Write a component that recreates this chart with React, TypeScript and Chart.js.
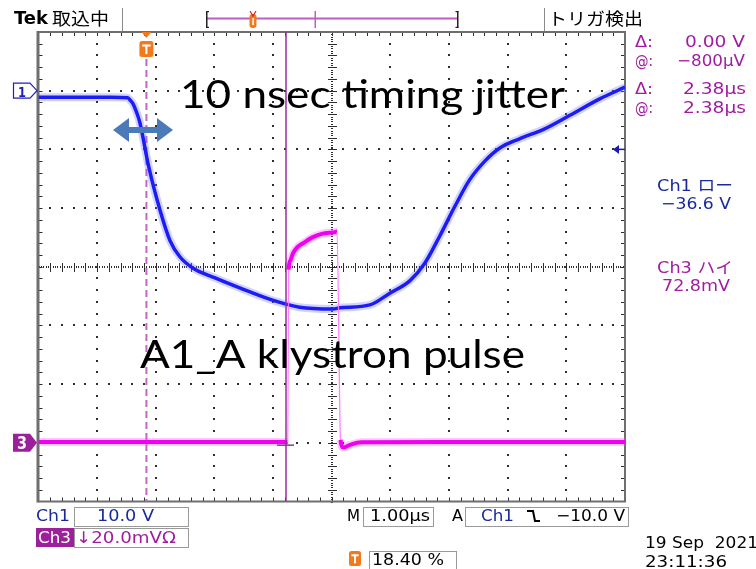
import React, { useEffect, useRef } from "react";
import { Chart, registerables } from "chart.js";

Chart.register(...registerables);

// ---- Data (time in µs relative to trigger) ----
const ch1TimeUs = [-1.84, -1.2, -0.6, -0.32, -0.27, -0.23, -0.16, -0.11, 0.04, 0.23, 0.4, 0.57, 0.79, 1.17, 1.59, 2.15, 2.61, 3.18, 3.3, 3.81, 4.15, 4.49, 4.74, 5.0, 5.26, 5.51, 5.77, 6.02, 6.36, 6.79, 7.22, 7.73, 8.16];
const ch1Volts = [-1.1, -1.1, -1.1, -1.2, -1.7, -2.2, -3.9, -5.5, -13.0, -20.3, -25.5, -28.3, -30.2, -31.9, -33.6, -35.7, -36.9, -37.2, -37.0, -36.5, -34.5, -32.4, -29.5, -24.8, -19.7, -15.2, -12.0, -9.8, -8.2, -6.5, -4.2, -1.4, 0.6];

const ch3TimeUs = [-1.84, -0.5, 1.0, 2.41, 2.425, 2.45, 2.5, 2.57, 2.67, 2.83, 2.99, 3.21, 3.25, 3.31, 3.36, 3.46, 3.66, 5.0, 8.16];
const ch3MilliVolts = [0.3, 0.3, 0.3, 0.3, 59.0, 62.0, 64.6, 66.6, 68.0, 70.0, 71.2, 71.8, 72.0, 1.0, -1.6, -0.8, 0.2, 0.3, 0.3];

const TIME_MIN = -1.84;
const TIME_MAX = 8.16;
const CH1_MIN = -70; // 10 V/div, ground at +3 div
const CH1_MAX = 10;
const CH3_MIN = -20; // 20 mV/div, ground at -3 div
const CH3_MAX = 140;
const CURSOR_US = 2.38;
const CURSOR_MV = -0.8;
const TRIGGER_LEVEL_V = -10;

const SCOPE_FONT = '"DejaVu Sans", "Noto Sans CJK JP", sans-serif';
const JP_FONT = '"Noto Sans CJK JP", "DejaVu Sans", sans-serif';
const PURPLE = "#a01ca0";
const CH1_TEXT = "#1a2a9c";

function fitText(ctx: CanvasRenderingContext2D, text: string, x0: number, x1: number, base: number, font: string, color: string) {
  ctx.save();
  ctx.font = font;
  ctx.fillStyle = color;
  ctx.textAlign = "left";
  ctx.textBaseline = "alphabetic";
  const w = ctx.measureText(text).width || 1;
  ctx.translate(x0, base);
  ctx.scale((x1 - x0) / w, 1);
  ctx.fillText(text, 0, 0);
  ctx.restore();
}

function roundRect(ctx: CanvasRenderingContext2D, x: number, y: number, w: number, h: number, r: number) {
  ctx.beginPath();
  ctx.moveTo(x + r, y);
  ctx.lineTo(x + w - r, y);
  ctx.quadraticCurveTo(x + w, y, x + w, y + r);
  ctx.lineTo(x + w, y + h - r);
  ctx.quadraticCurveTo(x + w, y + h, x + w - r, y + h);
  ctx.lineTo(x + r, y + h);
  ctx.quadraticCurveTo(x, y + h, x, y + h - r);
  ctx.lineTo(x, y + r);
  ctx.quadraticCurveTo(x, y, x + r, y);
  ctx.closePath();
}

function tBadge(ctx: CanvasRenderingContext2D, x: number, y: number, w: number, h: number) {
  ctx.save();
  roundRect(ctx, x, y, w, h, 2.5);
  ctx.fillStyle = "#f27a1c";
  ctx.fill();
  ctx.fillStyle = "#fff";
  const cx = x + w / 2;
  ctx.fillRect(cx - w * 0.3, y + h * 0.22, w * 0.6, 2);
  ctx.fillRect(cx - 1, y + h * 0.22, 2, h * 0.6);
  ctx.restore();
}

function box(ctx: CanvasRenderingContext2D, x0: number, y0: number, x1: number, y1: number) {
  ctx.save();
  ctx.strokeStyle = "#9a9a9a";
  ctx.lineWidth = 1;
  ctx.strokeRect(x0 + 0.5, y0 + 0.5, x1 - x0, y1 - y0);
  ctx.restore();
}

const scopePlugin = {
  id: "scope",
  beforeDatasetsDraw(chart: any) {
    const { ctx, chartArea: ca, scales } = chart;
    const L = ca.left, R = ca.right, T = ca.top, B = ca.bottom;
    const dx = (R - L) / 10, dy = (B - T) / 8;
    ctx.save();
    ctx.fillStyle = "#2e2e2e";
    for (let i = 1; i < 10; i++) {
      if (i === 5) continue;
      const x = Math.round(L + i * dx);
      for (let k = 1; k < 40; k++) ctx.fillRect(x - 1, Math.round(T + (k * dy) / 5) - 1, 2, 2);
    }
    for (let j = 1; j < 8; j++) {
      if (j === 4) continue;
      const y = Math.round(T + j * dy);
      for (let k = 1; k < 50; k++) ctx.fillRect(Math.round(L + (k * dx) / 5) - 1, y - 1, 2, 2);
    }
    const cx = Math.round(L + 5 * dx), cy = Math.round(T + 4 * dy);
    for (let k = 0; k <= 200; k++) ctx.fillRect(cx - 1, Math.round(T + (k * (B - T)) / 200), 2, 1);
    for (let k = 0; k <= 250; k++) ctx.fillRect(Math.round(L + (k * (R - L)) / 250), cy - 1, 1, 2);
    for (let k = 1; k < 40; k++) ctx.fillRect(cx - 4, Math.round(T + (k * dy) / 5), 9, 1);
    for (let k = 1; k < 50; k++) ctx.fillRect(Math.round(L + (k * dx) / 5), cy - 4, 1, 9);
    // border ticks
    for (let k = 1; k < 50; k++) {
      const x = Math.round(L + (k * dx) / 5);
      ctx.fillRect(x, T, 1, 4);
      ctx.fillRect(x, B - 4, 1, 4);
    }
    for (let k = 1; k < 40; k++) {
      const y = Math.round(T + (k * dy) / 5);
      ctx.fillRect(L, y, 4, 1);
      ctx.fillRect(R - 4, y, 4, 1);
    }
    // frame
    ctx.strokeStyle = "#6e6e6e";
    ctx.lineWidth = 2;
    ctx.strokeRect(L, T, R - L, B - T);
    ctx.fillStyle = "#6e6e6e";
    ctx.fillRect(L - 2, T - 1, 2, B - T + 2);
    // trigger dashed line
    const tx = scales.x.getPixelForValue(0);
    ctx.strokeStyle = "#c466c4";
    ctx.lineWidth = 2;
    ctx.setLineDash([7, 4]);
    ctx.beginPath();
    ctx.moveTo(tx, T + 27);
    ctx.lineTo(tx, B);
    ctx.stroke();
    ctx.restore();
  },
  afterDatasetsDraw(chart: any) {
    const { ctx, chartArea: ca, scales } = chart;
    const T = ca.top, B = ca.bottom, R = ca.right;
    ctx.save();
    // cursor line
    const cxp = scales.x.getPixelForValue(CURSOR_US);
    ctx.strokeStyle = "#9a2e9a";
    ctx.lineWidth = 1.5;
    ctx.beginPath();
    ctx.moveTo(cxp, T);
    ctx.lineTo(cxp, B);
    ctx.stroke();
    const cyp = scales.y3.getPixelForValue(CURSOR_MV);
    ctx.beginPath();
    ctx.moveTo(cxp - 9, cyp);
    ctx.lineTo(cxp + 8, cyp);
    ctx.stroke();
    // trigger marker on top
    const tx = scales.x.getPixelForValue(0);
    ctx.fillStyle = "#f27a1c";
    ctx.beginPath();
    ctx.moveTo(tx - 5, T);
    ctx.lineTo(tx + 5, T);
    ctx.lineTo(tx, T + 6);
    ctx.closePath();
    ctx.fill();
    tBadge(ctx, tx - 7, T + 9, 14, 16);
    // Ch1 ground marker
    const y1 = scales.y1.getPixelForValue(0);
    ctx.beginPath();
    ctx.moveTo(13.5, y1 - 7.5);
    ctx.lineTo(30, y1 - 7.5);
    ctx.lineTo(37, y1);
    ctx.lineTo(30, y1 + 7.5);
    ctx.lineTo(13.5, y1 + 7.5);
    ctx.closePath();
    ctx.fillStyle = "#fff";
    ctx.fill();
    ctx.strokeStyle = "#2020c0";
    ctx.lineWidth = 1.2;
    ctx.stroke();
    fitText(ctx, "1", 18, 26, y1 + 6, `bold 14px ${SCOPE_FONT}`, "#2020c0");
    // Ch3 ground marker
    const y3 = scales.y3.getPixelForValue(0);
    ctx.beginPath();
    ctx.moveTo(13, y3 - 9);
    ctx.lineTo(30, y3 - 9);
    ctx.lineTo(37, y3);
    ctx.lineTo(30, y3 + 9);
    ctx.lineTo(13, y3 + 9);
    ctx.closePath();
    ctx.fillStyle = "#9c1f9c";
    ctx.fill();
    fitText(ctx, "3", 17, 27, y3 + 6.5, `bold 17px ${SCOPE_FONT}`, "#fff");
    // trigger level arrow
    const yl = scales.y1.getPixelForValue(TRIGGER_LEVEL_V);
    ctx.fillStyle = "#1a1ab0";
    ctx.beginPath();
    ctx.moveTo(R - 12, yl);
    ctx.lineTo(R - 6, yl - 4.5);
    ctx.lineTo(R - 6, yl + 4.5);
    ctx.closePath();
    ctx.fill();
    ctx.fillRect(R - 7, yl - 0.75, 7, 1.5);
    ctx.restore();
  },
  afterDraw(chart: any) {
    const { ctx } = chart;
    ctx.save();
    // annotations
    fitText(ctx, "10 nsec timing jitter", 180, 565, 108, `38px Lato, "Open Sans", sans-serif`, "#000");
    fitText(ctx, "A1_A klystron pulse", 140, 525, 368, `38px Lato, "Open Sans", sans-serif`, "#000");
    // double arrow
    ctx.fillStyle = "#4a7ab8";
    ctx.beginPath();
    ctx.moveTo(113, 130);
    ctx.lineTo(129, 118);
    ctx.lineTo(129, 127);
    ctx.lineTo(157, 127);
    ctx.lineTo(157, 118);
    ctx.lineTo(173, 130);
    ctx.lineTo(157, 142);
    ctx.lineTo(157, 133);
    ctx.lineTo(129, 133);
    ctx.lineTo(129, 142);
    ctx.closePath();
    ctx.fill();

    // top bar
    fitText(ctx, "Tek", 14, 48, 24, `bold 17px ${SCOPE_FONT}`, "#000");
    fitText(ctx, "取込中", 52, 109, 25, `17px ${JP_FONT}`, "#000");
    fitText(ctx, "トリガ検出", 548, 643, 25, `17px ${JP_FONT}`, "#000");
    ctx.fillStyle = "#8a8a8a";
    ctx.fillRect(122, 8, 1, 23);
    ctx.fillRect(544, 8, 1, 23);
    // record bar
    ctx.fillStyle = "#c25cc2";
    ctx.fillRect(207, 17.5, 251, 2);
    ctx.fillRect(314.5, 11, 1.5, 17);
    ctx.fillStyle = "#222";
    ctx.fillRect(206, 11, 1.5, 17);
    ctx.fillRect(206, 11, 3, 1.2);
    ctx.fillRect(206, 26.8, 3, 1.2);
    ctx.fillRect(457, 11, 1.5, 17);
    ctx.fillRect(455.5, 11, 3, 1.2);
    ctx.fillRect(455.5, 26.8, 3, 1.2);
    roundRect(ctx, 249.5, 14, 7, 14, 3);
    ctx.fillStyle = "#f27a1c";
    ctx.fill();
    ctx.fillStyle = "#fff";
    ctx.fillRect(252.3, 18, 1.6, 7);
    ctx.strokeStyle = "#e02020";
    ctx.lineWidth = 1.2;
    ctx.beginPath();
    ctx.moveTo(250, 11);
    ctx.lineTo(253, 16);
    ctx.lineTo(256, 11);
    ctx.stroke();

    // right panel
    fitText(ctx, "Δ:", 635, 653, 47, `16px ${SCOPE_FONT}`, PURPLE);
    fitText(ctx, "0.00 V", 685, 745, 47, `16px ${SCOPE_FONT}`, PURPLE);
    fitText(ctx, "@:", 635, 653, 66, `16px ${SCOPE_FONT}`, PURPLE);
    fitText(ctx, "−800µV", 677, 745, 66, `16px ${SCOPE_FONT}`, PURPLE);
    fitText(ctx, "Δ:", 635, 653, 94, `16px ${SCOPE_FONT}`, PURPLE);
    fitText(ctx, "2.38µs", 683, 746, 94, `16px ${SCOPE_FONT}`, PURPLE);
    fitText(ctx, "@:", 635, 653, 113, `16px ${SCOPE_FONT}`, PURPLE);
    fitText(ctx, "2.38µs", 683, 746, 113, `16px ${SCOPE_FONT}`, PURPLE);
    fitText(ctx, "Ch1 ロー", 657, 733, 191, `16px ${SCOPE_FONT}`, CH1_TEXT);
    fitText(ctx, "−36.6 V", 661, 731, 209, `16px ${SCOPE_FONT}`, CH1_TEXT);
    fitText(ctx, "Ch3 ハイ", 657, 733, 273, `16px ${SCOPE_FONT}`, PURPLE);
    fitText(ctx, "72.8mV", 662, 730, 291, `16px ${SCOPE_FONT}`, PURPLE);

    // bottom panel
    fitText(ctx, "Ch1", 36, 70, 521, `16px ${SCOPE_FONT}`, CH1_TEXT);
    box(ctx, 74, 507, 188, 526);
    fitText(ctx, "10.0 V", 97, 154, 521, `16px ${SCOPE_FONT}`, CH1_TEXT);
    ctx.fillStyle = "#9c1f9c";
    ctx.fillRect(36, 528, 38, 19);
    fitText(ctx, "Ch3", 38, 71, 543, `16px ${SCOPE_FONT}`, "#fff");
    box(ctx, 74, 528, 188, 547);
    fitText(ctx, "↓20.0mVΩ", 76, 176, 543, `16px ${SCOPE_FONT}`, PURPLE);
    fitText(ctx, "M", 347, 360, 521, `16px ${SCOPE_FONT}`, "#000");
    box(ctx, 363, 507, 433, 526);
    fitText(ctx, "1.00µs", 370, 430, 521, `16px ${SCOPE_FONT}`, "#000");
    fitText(ctx, "A", 452, 463, 521, `16px ${SCOPE_FONT}`, "#000");
    box(ctx, 465, 507, 628, 526);
    fitText(ctx, "Ch1", 481, 514, 521, `16px ${SCOPE_FONT}`, CH1_TEXT);
    ctx.strokeStyle = "#000";
    ctx.lineWidth = 2;
    ctx.beginPath();
    ctx.moveTo(527, 511);
    ctx.lineTo(533, 511);
    ctx.lineTo(535, 521);
    ctx.lineTo(540, 521);
    ctx.stroke();
    fitText(ctx, "−10.0 V", 556, 625, 521, `16px ${SCOPE_FONT}`, "#000");
    tBadge(ctx, 349, 551, 12, 15);
    box(ctx, 369, 551, 456, 569);
    fitText(ctx, "18.40 %", 372, 444, 565, `16px ${SCOPE_FONT}`, "#000");
    fitText(ctx, "19 Sep  2021", 645, 758, 548, `16px ${SCOPE_FONT}`, "#000");
    fitText(ctx, "23:11:36", 645, 727, 567, `16px ${SCOPE_FONT}`, "#000");
    ctx.restore();
  },
};

const isEdge = (c: any) => Math.abs(c.p1.parsed.y - c.p0.parsed.y) > 20;

export default function App() {
  const ref = useRef<HTMLCanvasElement>(null);
  useEffect(() => {
    const ch1 = ch1TimeUs.map((t, i) => ({ x: t, y: ch1Volts[i] }));
    const ch3 = ch3TimeUs.map((t, i) => ({ x: t, y: ch3MilliVolts[i] }));
    const chart = new Chart(ref.current!, {
      type: "line",
      data: {
        datasets: [
          {
            label: "Ch3",
            data: ch3,
            yAxisID: "y3",
            order: 0,
            borderColor: "#f000f0",
            borderWidth: 4,
            pointRadius: 0,
            cubicInterpolationMode: "monotone",
            segment: {
              borderWidth: (c: any) => (isEdge(c) ? 1.3 : 4),
              borderColor: (c: any) => (isEdge(c) ? "rgba(255,120,255,0.9)" : "#f000f0"),
            },
          },
          {
            label: "Ch3 halo",
            data: ch3,
            yAxisID: "y3",
            order: 1,
            borderColor: "rgba(255,80,255,0.3)",
            borderWidth: 8,
            pointRadius: 0,
            cubicInterpolationMode: "monotone",
            segment: {
              borderColor: (c: any) => (isEdge(c) ? "rgba(0,0,0,0)" : "rgba(255,80,255,0.3)"),
            },
          },
          {
            label: "Ch1",
            data: ch1,
            yAxisID: "y1",
            order: 2,
            borderColor: "#1c1cf4",
            borderWidth: 3.5,
            pointRadius: 0,
            cubicInterpolationMode: "monotone",
          },
          {
            label: "Ch1 halo",
            data: ch1,
            yAxisID: "y1",
            order: 3,
            borderColor: "rgba(110,110,255,0.3)",
            borderWidth: 8,
            pointRadius: 0,
            cubicInterpolationMode: "monotone",
          },
        ],
      },
      options: {
        responsive: false,
        maintainAspectRatio: false,
        animation: false,
        events: [],
        layout: { padding: { left: 38.5, right: 131, top: 32, bottom: 67.5 } },
        scales: {
          x: { type: "linear", min: TIME_MIN, max: TIME_MAX, display: false },
          y1: { type: "linear", min: CH1_MIN, max: CH1_MAX, display: false },
          y3: { type: "linear", min: CH3_MIN, max: CH3_MAX, display: false },
        },
        plugins: { legend: { display: false }, tooltip: { enabled: false } },
      },
      plugins: [scopePlugin],
    } as any);
    return () => chart.destroy();
  }, []);
  return (
    <div style={{ position: "absolute", left: 0, top: 0, width: 756, height: 569, background: "#fff" }}>
      <canvas ref={ref} width={756} height={569} style={{ width: 756, height: 569, display: "block" }} />
    </div>
  );
}
